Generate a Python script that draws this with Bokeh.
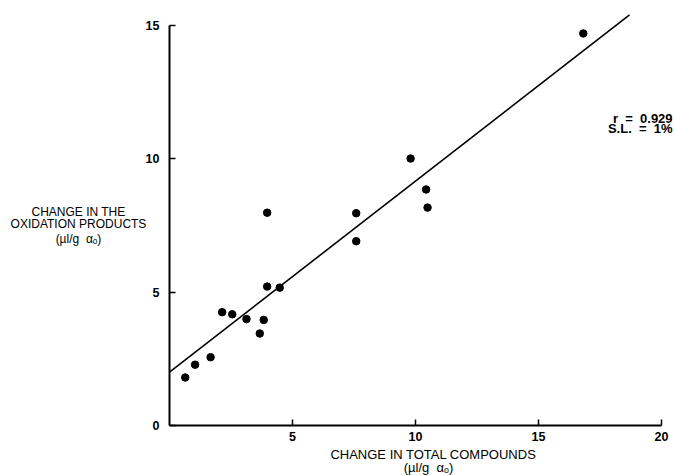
from bokeh.plotting import figure
from bokeh.models import Range1d, FixedTicker, Label
from bokeh.embed import file_html
from bokeh.resources import INLINE

# Data
total_change = [0.64, 1.04, 1.67, 2.14, 2.55, 3.13, 3.67, 3.83, 3.97, 3.97, 4.48,
                7.59, 7.59, 9.80, 10.43, 10.49, 16.82]
oxid_change = [1.80, 2.28, 2.56, 4.25, 4.17, 3.99, 3.45, 3.96, 7.98, 5.21, 5.17,
               7.96, 6.91, 10.01, 8.85, 8.17, 14.70]
fit_x = [0.0, 18.7]
fit_y = [2.0, 15.4]
x_ticks = [5, 10, 15, 20]
y_ticks = [0, 5, 10, 15]
NB = "\u00a0"
stats_lines = ["r" + NB * 2 + "=" + NB * 2 + "0.929", "S.L." + NB * 2 + "=" + NB * 2 + "1%"]
y_title = ["CHANGE IN THE", "OXIDATION PRODUCTS", "(\u00b5l/g" + NB * 2 + "\u03b1\u2092)"]
x_title = ["CHANGE IN TOTAL COMPOUNDS", "(\u00b5l/g" + NB * 2 + "\u03b1\u2092)"]

FONT = "Liberation Sans"

p = figure(width=674, height=476, output_backend="svg", toolbar_location=None,
           x_range=Range1d(-6.870, 20.528), y_range=Range1d(-1.912, 15.936),
           min_border_left=0, min_border_right=0, min_border_top=0,
           min_border_bottom=0, title_location=None)
p.outline_line_color = None
p.xgrid.visible = False
p.ygrid.visible = False
p.background_fill_color = "white"
p.border_fill_color = "white"

for ax, ticks, bounds, standoff in ((p.xaxis[0], x_ticks, (0, 20), 6),
                                    (p.yaxis[0], y_ticks, (0, 15), 10)):
    ax.fixed_location = 0
    ax.ticker = FixedTicker(ticks=ticks)
    ax.bounds = bounds
    ax.axis_line_width = 2
    ax.axis_line_color = "black"
    ax.major_tick_in = 6
    ax.major_tick_out = 0
    ax.major_tick_line_width = 1.5
    ax.minor_tick_line_color = None
    ax.major_label_text_font = FONT
    ax.major_label_text_font_size = "12.5px"
    ax.major_label_text_font_style = "bold"
    ax.major_label_text_color = "black"
    ax.major_label_standoff = standoff

p.line(fit_x, fit_y, line_color="black", line_width=1.6)
p.scatter(total_change, oxid_change, size=7.5, fill_color="black",
          line_color="black")

# statistics text
for i, t in enumerate(stats_lines):
    p.add_layout(Label(x=20.45, y=11.53 - i * 0.38, text=t, text_align="right",
                       text_baseline="middle", text_font=FONT,
                       text_font_size="13px", text_font_style="bold",
                       text_color="black"))

# y title (horizontal, left of the axis)
y_pos = [7.99, 7.54, 6.99]
for t, yy in zip(y_title, y_pos):
    p.add_layout(Label(x=-3.7, y=yy, text=t, text_align="center",
                       text_baseline="middle", text_font=FONT,
                       text_font_size="12px", text_color="black"))

# x title
x_pos = [(10.73, -1.087), (10.53, -1.575)]
for t, (xx, yy) in zip(x_title, x_pos):
    p.add_layout(Label(x=xx, y=yy, text=t, text_align="center",
                       text_baseline="middle", text_font=FONT,
                       text_font_size="13px", text_color="black"))

open("out.html", "w").write(file_html(p, INLINE))
